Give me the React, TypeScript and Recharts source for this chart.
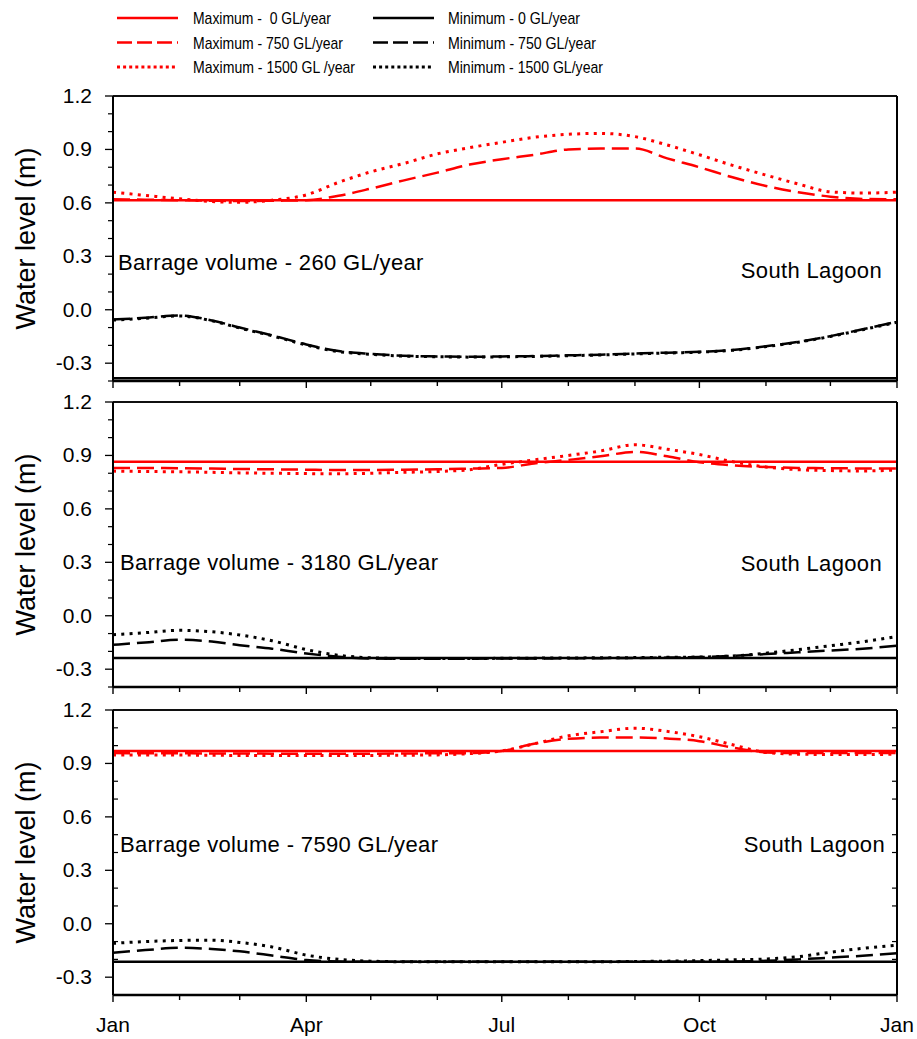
import { LineChart, Line, XAxis, YAxis, ReferenceLine } from 'recharts'

const FONT = '"Liberation Sans", Arial, Helvetica, sans-serif'

// sample days (day of year), roughly twice a month
const days = [0, 15, 31, 46, 59, 74, 90, 105, 120, 135, 151, 166, 181, 196, 212, 227, 243, 258, 273, 288, 304, 319, 334, 349, 365]

const monthStarts = [0, 31, 59, 90, 120, 151, 181, 212, 243, 273, 304, 334, 365]
const labelDays = [0, 90, 181, 273, 365]
const labelNames = ['Jan', 'Apr', 'Jul', 'Oct', 'Jan']

const yMajor = [-0.3, 0, 0.3, 0.6, 0.9, 1.2]
const yMinor = [-0.4, -0.2, -0.1, 0.1, 0.2, 0.4, 0.5, 0.7, 0.8, 1.0, 1.1]

const barrageVolumes = [260, 3180, 7590]
const location = 'South Lagoon'

const seriesKeys = ['max1500', 'max750', 'max0', 'min1500', 'min750', 'min0']
const legendKeys = ['max0', 'max750', 'max1500', 'min0', 'min750', 'min1500']
const legendNames = [
  'Maximum -  0 GL/year',
  'Maximum - 750 GL/year',
  'Maximum - 1500 GL /year',
  'Minimum - 0 GL/year',
  'Minimum - 750 GL/year',
  'Minimum - 1500 GL/year',
]

// panel 1 - 260 GL/year
const p1Max0 = [0.615, 0.615, 0.615, 0.615, 0.615, 0.615, 0.615, 0.615, 0.615, 0.615, 0.615, 0.615, 0.615, 0.615, 0.615, 0.615, 0.615, 0.615, 0.615, 0.615, 0.615, 0.615, 0.615, 0.615, 0.615]
const p1Max750 = [0.62, 0.618, 0.615, 0.612, 0.61, 0.612, 0.615, 0.64, 0.68, 0.725, 0.77, 0.815, 0.845, 0.87, 0.9, 0.905, 0.905, 0.85, 0.8, 0.745, 0.695, 0.66, 0.635, 0.622, 0.62]
const p1Max1500 = [0.66, 0.642, 0.623, 0.608, 0.603, 0.615, 0.645, 0.715, 0.774, 0.82, 0.875, 0.91, 0.94, 0.968, 0.985, 0.99, 0.972, 0.925, 0.87, 0.812, 0.756, 0.706, 0.662, 0.655, 0.66]
const p1Min0 = [-0.385, -0.385, -0.385, -0.385, -0.385, -0.385, -0.385, -0.385, -0.385, -0.385, -0.385, -0.385, -0.385, -0.385, -0.385, -0.385, -0.385, -0.385, -0.385, -0.385, -0.385, -0.385, -0.385, -0.385, -0.385]
const p1Min750 = [-0.055, -0.045, -0.032, -0.06, -0.1, -0.143, -0.195, -0.232, -0.248, -0.258, -0.262, -0.264, -0.262, -0.26, -0.256, -0.252, -0.246, -0.241, -0.236, -0.226, -0.205, -0.18, -0.148, -0.11, -0.067]
const p1Min1500 = [-0.058, -0.048, -0.035, -0.062, -0.103, -0.146, -0.198, -0.235, -0.25, -0.26, -0.264, -0.266, -0.264, -0.262, -0.258, -0.254, -0.248, -0.243, -0.238, -0.228, -0.207, -0.182, -0.15, -0.112, -0.07]

// panel 2 - 3180 GL/year
const p2Max0 = [0.865, 0.865, 0.865, 0.865, 0.865, 0.865, 0.865, 0.865, 0.865, 0.865, 0.865, 0.865, 0.865, 0.865, 0.865, 0.865, 0.865, 0.865, 0.865, 0.865, 0.865, 0.865, 0.865, 0.865, 0.865]
const p2Max750 = [0.83, 0.83, 0.828, 0.826, 0.824, 0.822, 0.82, 0.818, 0.818, 0.82, 0.822, 0.826, 0.83, 0.855, 0.875, 0.895, 0.92, 0.895, 0.862, 0.845, 0.835, 0.83, 0.828, 0.827, 0.826]
const p2Max1500 = [0.812, 0.81, 0.808, 0.805, 0.802, 0.8, 0.798, 0.797, 0.8, 0.805, 0.81, 0.82, 0.85, 0.875, 0.9, 0.925, 0.96, 0.935, 0.905, 0.866, 0.835, 0.82, 0.815, 0.813, 0.818]
const p2Min0 = [-0.237, -0.237, -0.237, -0.237, -0.237, -0.237, -0.237, -0.237, -0.237, -0.237, -0.237, -0.237, -0.237, -0.237, -0.237, -0.237, -0.237, -0.237, -0.237, -0.237, -0.237, -0.237, -0.237, -0.237, -0.237]
const p2Min750 = [-0.163, -0.15, -0.135, -0.145, -0.165, -0.185, -0.212, -0.23, -0.24, -0.242, -0.242, -0.241, -0.24, -0.24, -0.239, -0.238, -0.237, -0.235, -0.232, -0.225, -0.215, -0.205, -0.195, -0.185, -0.168]
const p2Min1500 = [-0.107, -0.095, -0.082, -0.09, -0.108, -0.14, -0.19, -0.222, -0.236, -0.24, -0.24, -0.24, -0.239, -0.238, -0.237, -0.236, -0.235, -0.233, -0.232, -0.226, -0.21, -0.19, -0.168, -0.146, -0.116]

// panel 3 - 7590 GL/year
const p3Max0 = [0.97, 0.97, 0.97, 0.97, 0.97, 0.97, 0.97, 0.97, 0.97, 0.97, 0.97, 0.97, 0.97, 0.97, 0.97, 0.97, 0.97, 0.97, 0.97, 0.97, 0.97, 0.97, 0.97, 0.97, 0.97]
const p3Max750 = [0.958, 0.957, 0.957, 0.956, 0.956, 0.955, 0.955, 0.955, 0.955, 0.956, 0.957, 0.958, 0.97, 1.01, 1.038, 1.045, 1.046, 1.04, 1.025, 0.99, 0.962, 0.958, 0.958, 0.958, 0.958]
const p3Max1500 = [0.948, 0.948, 0.947, 0.946, 0.945, 0.945, 0.944, 0.944, 0.945, 0.946, 0.948, 0.955, 0.97, 1.01, 1.055, 1.078, 1.098, 1.08, 1.05, 1.006, 0.962, 0.952, 0.95, 0.95, 0.952]
const p3Min0 = [-0.213, -0.213, -0.213, -0.213, -0.213, -0.213, -0.213, -0.213, -0.213, -0.213, -0.213, -0.213, -0.213, -0.213, -0.213, -0.213, -0.213, -0.213, -0.213, -0.213, -0.213, -0.213, -0.213, -0.213, -0.213]
const p3Min750 = [-0.163, -0.148, -0.135, -0.142, -0.155, -0.178, -0.204, -0.212, -0.214, -0.214, -0.214, -0.214, -0.214, -0.214, -0.214, -0.214, -0.214, -0.214, -0.213, -0.212, -0.208, -0.2, -0.19, -0.18, -0.166]
const p3Min1500 = [-0.11, -0.1, -0.094, -0.092, -0.105, -0.13, -0.176, -0.2, -0.21, -0.213, -0.213, -0.213, -0.213, -0.213, -0.213, -0.213, -0.212, -0.21, -0.207, -0.203, -0.198, -0.185, -0.16, -0.138, -0.12]

const panelSeries = [
  { max0: p1Max0, max750: p1Max750, max1500: p1Max1500, min0: p1Min0, min750: p1Min750, min1500: p1Min1500 },
  { max0: p2Max0, max750: p2Max750, max1500: p2Max1500, min0: p2Min0, min750: p2Min750, min1500: p2Min1500 },
  { max0: p3Max0, max750: p3Max750, max1500: p3Max1500, min0: p3Min0, min750: p3Min750, min1500: p3Min1500 },
]

// layout
const plotTops = [96, 402, 710]
const PLOT_H = 285
const TOP_PAD = 20
const barrageLabelY = [263, 563, 845]
const lagoonLabelY = [271, 564, 845]
const legendTextWidths = [138, 150, 162, 132, 148, 155]

const lineStyle: Record<string, { color: string; dash?: string }> = {
  max0: { color: '#ff0000' },
  max750: { color: '#ff0000', dash: '17 7' },
  max1500: { color: '#ff0000', dash: '3 5.3' },
  min0: { color: '#000000' },
  min750: { color: '#000000', dash: '17 7' },
  min1500: { color: '#000000', dash: '3 5.3' },
}

const isMajor = (v: number) => yMajor.some((m) => Math.abs(m - v) < 1e-6)

function YTick(props: any) {
  const { x, y, payload, side, minorInside } = props
  const v = payload.value
  const major = isMajor(v)
  if (side === 'right') {
    if (major || !minorInside) return <g />
    return <line x1={x - 5} x2={x} y1={y} y2={y} stroke="#000" strokeWidth={1.2} />
  }
  if (major) {
    return (
      <g>
        <line x1={x - 8} x2={x} y1={y} y2={y} stroke="#000" strokeWidth={1.3} />
        <text x={x - 21} y={y + 7} textAnchor="end" fontSize={21} fontFamily={FONT} fill="#000">
          {v.toFixed(1)}
        </text>
      </g>
    )
  }
  return minorInside ? (
    <line x1={x} x2={x + 5} y1={y} y2={y} stroke="#000" strokeWidth={1.2} />
  ) : (
    <line x1={x - 5} x2={x} y1={y} y2={y} stroke="#000" strokeWidth={1.2} />
  )
}

function XTick(props: any) {
  const { x, y, payload, showLabels } = props
  const idx = labelDays.indexOf(payload.value)
  const len = idx >= 0 ? 7 : 5
  return (
    <g>
      <line x1={x} x2={x} y1={y} y2={y + len} stroke="#000" strokeWidth={1.4} />
      {showLabels && idx >= 0 && (
        <text x={x} y={y + 37} textAnchor="middle" fontSize={21} fontFamily={FONT} fill="#000">
          {labelNames[idx]}
        </text>
      )}
    </g>
  )
}

function YLabel(props: any) {
  const { viewBox } = props
  const cy = viewBox.y + viewBox.height / 2
  return (
    <text
      x={26}
      y={cy}
      transform={`rotate(-90, 26, ${cy})`}
      textAnchor="middle"
      dominantBaseline="central"
      fontSize={27}
      fontFamily={FONT}
      fill="#000"
    >
      Water level (m)
    </text>
  )
}

function Panel({ index }: { index: number }) {
  const series = panelSeries[index] as Record<string, number[]>
  const rows = days.map((d, i) => {
    const row: Record<string, number> = { day: d }
    seriesKeys.forEach((k) => (row[k] = series[k][i]))
    return row
  })
  const last = index === 2
  const xh = last ? 45 : 12
  const textStyle = {
    position: 'absolute' as const,
    fontSize: 22,
    letterSpacing: '0.35px',
    lineHeight: '26px',
    fontFamily: FONT,
    whiteSpace: 'pre' as const,
  }
  return (
    <div style={{ position: 'absolute', left: 0, top: plotTops[index] - TOP_PAD }}>
      <LineChart
        width={917}
        height={TOP_PAD + PLOT_H + xh}
        data={rows}
        margin={{ top: TOP_PAD - 1, right: 19, bottom: 0, left: 0 }}
      >
        <XAxis
          dataKey="day"
          type="number"
          domain={[0, 365]}
          ticks={monthStarts}
          interval={0}
          tickLine={false}
          tickSize={0}
          tickMargin={0}
          tick={<XTick showLabels={last} />}
          height={xh}
          axisLine={{ stroke: '#000', strokeWidth: 2.5 }}
          allowDataOverflow
        />
        <XAxis
          xAxisId="top"
          orientation="top"
          type="number"
          domain={[0, 365]}
          tick={false}
          tickLine={false}
          height={1}
          axisLine={{ stroke: '#000', strokeWidth: 1.5 }}
          allowDataOverflow
        />
        <YAxis
          type="number"
          domain={[-0.4, 1.2]}
          ticks={[...yMinor, ...yMajor]}
          interval={0}
          width={113}
          tickLine={false}
          tickSize={0}
          tickMargin={0}
          tick={<YTick side="left" minorInside={last} />}
          axisLine={{ stroke: '#000', strokeWidth: 2 }}
          label={<YLabel />}
          allowDataOverflow
        />
        <YAxis
          yAxisId="right"
          orientation="right"
          type="number"
          domain={[-0.4, 1.2]}
          ticks={[...yMinor, ...yMajor]}
          interval={0}
          width={1}
          tickLine={false}
          tickSize={0}
          tickMargin={0}
          tick={<YTick side="right" minorInside={last} />}
          axisLine={{ stroke: '#000', strokeWidth: 2 }}
          allowDataOverflow
        />
        <ReferenceLine y={1.2} stroke="#000" strokeWidth={1.5} ifOverflow="extendDomain" />
        <ReferenceLine x={365} stroke="#000" strokeWidth={2} ifOverflow="extendDomain" />
        {seriesKeys.map((k) => (
          <Line
            key={k}
            type="monotone"
            dataKey={k}
            stroke={lineStyle[k].color}
            strokeWidth={k.endsWith('1500') ? 3 : 2.5}
            strokeDasharray={lineStyle[k].dash}
            dot={false}
            activeDot={false}
            isAnimationActive={false}
          />
        ))}
      </LineChart>
      <div style={{ ...textStyle, left: index === 0 ? 118 : 120, top: barrageLabelY[index] - plotTops[index] + TOP_PAD - 13 }}>
        {`Barrage volume - ${barrageVolumes[index]} GL/year`}
      </div>
      <div
        style={{
          ...textStyle,
          right: index === 2 ? 32 : 35,
          top: lagoonLabelY[index] - plotTops[index] + TOP_PAD - 13,
          textAlign: 'right',
        }}
      >
        {location}
      </div>
    </div>
  )
}

function LegendBox() {
  const rowY = [18, 42.5, 67]
  const lineX = [117, 373]
  const textX = [193, 448]
  const legendDash: Record<string, string | undefined> = { '0': undefined, '750': '15 5', '1500': '3 3.1' }
  return (
    <svg width={917} height={85} style={{ position: 'absolute', left: 0, top: 0 }}>
      {legendKeys.map((k, i) => {
        const col = i < 3 ? 0 : 1
        const y = rowY[i % 3]
        const vol = k.replace(/^(max|min)/, '')
        return (
          <g key={k}>
            <line
              x1={lineX[col]}
              x2={lineX[col] + 61}
              y1={y}
              y2={y}
              stroke={lineStyle[k].color}
              strokeWidth={vol === '1500' ? 3 : 2.5}
              strokeDasharray={legendDash[vol]}
            />
            <text
              x={textX[col]}
              y={y + 6}
              fontSize={17}
              fontFamily={FONT}
              fill="#000"
              textLength={legendTextWidths[i]}
              lengthAdjust="spacingAndGlyphs"
              style={{ whiteSpace: 'pre' }}
            >
              {legendNames[i]}
            </text>
          </g>
        )
      })}
    </svg>
  )
}

export default function App() {
  return (
    <div style={{ position: 'absolute', left: 0, top: 0, width: 917, height: 1039, background: '#fff', fontFamily: FONT }}>
      <LegendBox />
      {[0, 1, 2].map((i) => (
        <Panel key={i} index={i} />
      ))}
    </div>
  )
}
